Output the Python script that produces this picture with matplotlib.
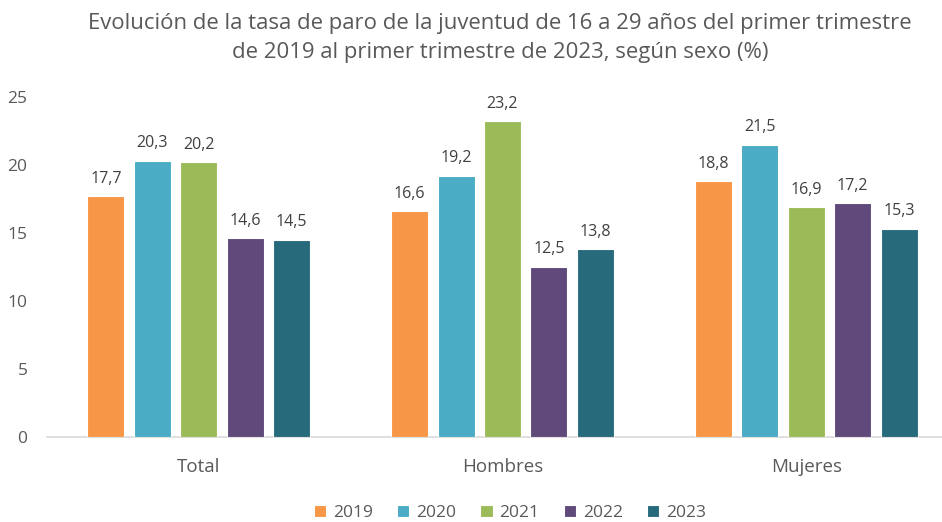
import matplotlib
matplotlib.use('Agg')

import numpy as np
import matplotlib.pyplot as plt

plt.rcParams['font.family'] = ['Open Sans', 'DejaVu Sans']

categories = ['Total', 'Hombres', 'Mujeres']
years = ['2019', '2020', '2021', '2022', '2023']
values = {
    '2019': [17.7, 16.6, 18.8],
    '2020': [20.3, 19.2, 21.5],
    '2021': [20.2, 23.2, 16.9],
    '2022': [14.6, 12.5, 17.2],
    '2023': [14.5, 13.8, 15.3],
}
colors = ['#F79646', '#4BACC6', '#9BBB59', '#604A7B', '#276A7C']

text_color = '#595959'

fig = plt.figure(figsize=(9.42, 5.22), dpi=100)
# axes spans slightly past right edge, as in the cropped original
ax = fig.add_axes([47 / 942, 1 - 437 / 522, 911 / 942, 340 / 522])

x = np.arange(len(categories))
step = 0.153
width = 0.122
for i, yr in enumerate(years):
    pos = x + (i - 2) * step
    bars = ax.bar(pos, values[yr], width, color=colors[i], edgecolor='white',
                  linewidth=0.8, label=yr, zorder=3)
    for b, v in zip(bars, values[yr]):
        ax.text(b.get_x() + b.get_width() / 2, v + 0.7, f'{v:.1f}'.replace('.', ','),
                ha='center', va='bottom', fontsize=11.5, color='#404040')

ax.set_xlim(-0.5, 2.5)
ax.set_ylim(0, 25)
ax.set_yticks([0, 5, 10, 15, 20, 25])
ax.set_xticks(x)
ax.set_xticklabels(categories)
ax.tick_params(axis='both', length=0, colors=text_color)
ax.tick_params(axis='x', pad=15, labelsize=13.5)
ax.tick_params(axis='y', pad=14, labelsize=12.5)
for s in ['top', 'right', 'left']:
    ax.spines[s].set_visible(False)
ax.spines['bottom'].set_color('#D9D9D9')
ax.spines['bottom'].set_linewidth(1.2)

fig.text(500 / 942, 1 - 38 / 522,
         'Evolución de la tasa de paro de la juventud de 16 a 29 años del primer trimestre\n'
         'de 2019 al primer trimestre de 2023, según sexo (%)',
         ha='center', va='center', fontsize=15.9, color=text_color, linespacing=1.45)

handles, labels = ax.get_legend_handles_labels()
fig.legend(handles, labels, loc='center', bbox_to_anchor=(510 / 942, 1 - 513 / 522),
           ncol=5, frameon=False, fontsize=12.5, labelcolor=text_color,
           handlelength=0.7, handleheight=0.7, handletextpad=0.4, columnspacing=1.4)

plt.savefig('out.png', dpi=100, facecolor='white')
